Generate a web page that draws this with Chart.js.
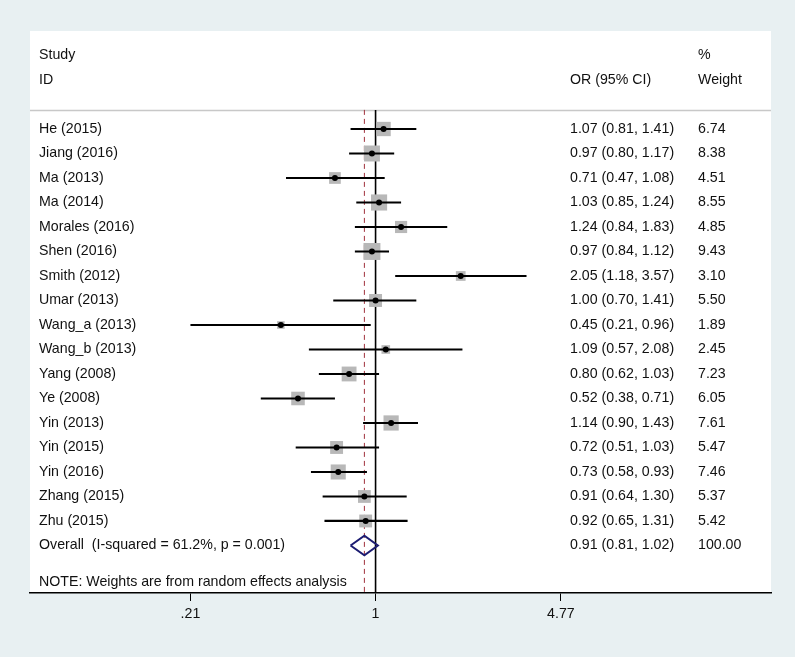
<!DOCTYPE html>
<html>
<head>
<meta charset="utf-8">
<script src="https://cdn.jsdelivr.net/npm/chart.js@4"></script>
<style>
  html, body { margin: 0; padding: 0; background: #e8f0f2; }
  canvas { display: block; }
</style>
</head>
<body>
<canvas class="js-chart" width="795" height="657"></canvas>
<script>
const studies = ["He (2015)", "Jiang (2016)", "Ma (2013)", "Ma (2014)", "Morales (2016)",
  "Shen (2016)", "Smith (2012)", "Umar (2013)", "Wang_a (2013)", "Wang_b (2013)",
  "Yang (2008)", "Ye (2008)", "Yin (2013)", "Yin (2015)", "Yin (2016)",
  "Zhang (2015)", "Zhu (2015)"];
const oddsRatio = [1.07, 0.97, 0.71, 1.03, 1.24, 0.97, 2.05, 1.00, 0.45, 1.09, 0.80, 0.52, 1.14, 0.72, 0.73, 0.91, 0.92];
const ciLow = [0.81, 0.80, 0.47, 0.85, 0.84, 0.84, 1.18, 0.70, 0.21, 0.57, 0.62, 0.38, 0.90, 0.51, 0.58, 0.64, 0.65];
const ciHigh = [1.41, 1.17, 1.08, 1.24, 1.83, 1.12, 3.57, 1.41, 0.96, 2.08, 1.03, 0.71, 1.43, 1.03, 0.93, 1.30, 1.31];
const weights = [6.74, 8.38, 4.51, 8.55, 4.85, 9.43, 3.10, 5.50, 1.89, 2.45, 7.23, 6.05, 7.61, 5.47, 7.46, 5.37, 5.42];

const overallLabel = "Overall  (I-squared = 61.2%, p = 0.001)";
const overallOR = 0.91;
const overallLow = 0.81;
const overallHigh = 1.02;
const overallWeight = 100.0;

const xTickValues = [0.21, 1, 4.77];
const xTickLabels = [".21", "1", "4.77"];

const noteText = "NOTE: Weights are from random effects analysis";

const FONT = "'Liberation Sans', Arial, sans-serif";
const TEXT_COLOR = "#111";
const OVERALL_ROW = studies.length;
const TOP_ROW = -4;
const BOTTOM_ROW = 18.94;
const RULE_ROW = -0.78;

const ctx = document.querySelector(".js-chart").getContext("2d");

// whisker lines, one per study
const ciSets = studies.map((s, i) => ({
  data: [{ x: ciLow[i], y: i }, { x: ciHigh[i], y: i }],
  showLine: true,
  borderColor: "#000",
  borderWidth: 2.2,
  pointRadius: 0,
  order: 1,
}));

const datasets = [
  {
    // null line
    data: [{ x: 1, y: RULE_ROW }, { x: 1, y: BOTTOM_ROW }],
    showLine: true,
    borderColor: "#000",
    borderWidth: 1.6,
    pointRadius: 0,
    order: 4,
  },
  {
    // overall effect line
    data: [{ x: overallOR, y: RULE_ROW }, { x: overallOR, y: BOTTOM_ROW }],
    showLine: true,
    borderColor: "#a0303c",
    borderWidth: 1,
    borderDash: [5, 4],
    pointRadius: 0,
    order: 4,
  },
  {
    // weight boxes
    data: oddsRatio.map((v, i) => ({ x: v, y: i })),
    pointStyle: "rect",
    pointRadius: (c) => 3.9 * Math.sqrt(weights[c.dataIndex] || 0),
    backgroundColor: "#b8b8b8",
    borderWidth: 0,
    order: 3,
  },
  ...ciSets,
  {
    // point estimates
    data: oddsRatio.map((v, i) => ({ x: v, y: i })),
    pointStyle: "circle",
    pointRadius: 3,
    backgroundColor: "#000",
    borderWidth: 0,
    order: 0,
  },
  {
    // overall diamond
    data: [
      { x: overallLow, y: OVERALL_ROW },
      { x: overallOR, y: OVERALL_ROW - 0.4 },
      { x: overallHigh, y: OVERALL_ROW },
      { x: overallOR, y: OVERALL_ROW + 0.4 },
      { x: overallLow, y: OVERALL_ROW },
    ],
    showLine: true,
    borderColor: "#1c1c72",
    borderWidth: 2,
    borderJoinStyle: "miter",
    pointRadius: 0,
    order: 1,
  },
];

const panelPlugin = {
  id: "panel",
  beforeDraw(chart) {
    const { ctx, chartArea: a } = chart;
    ctx.save();
    ctx.fillStyle = "#e8f0f2";
    ctx.fillRect(0, 0, chart.width, chart.height);
    ctx.fillStyle = "#fff";
    ctx.fillRect(a.left, a.top, a.right - a.left, a.bottom - a.top);
    const ry = Math.round(chart.scales.y.getPixelForValue(RULE_ROW)) + 0.5;
    ctx.strokeStyle = "#c8c8c8";
    ctx.lineWidth = 1.5;
    ctx.beginPath();
    ctx.moveTo(a.left, ry);
    ctx.lineTo(a.right, ry);
    ctx.stroke();
    ctx.restore();
  },
};

const textPlugin = {
  id: "tableText",
  afterDatasetsDraw(chart) {
    const { ctx, chartArea: a } = chart;
    const y = chart.scales.y;
    const labelX = a.left + 9;
    const orX = 570;
    const wX = 698;
    ctx.save();
    ctx.font = "14.2px " + FONT;
    ctx.fillStyle = TEXT_COLOR;
    ctx.textBaseline = "middle";
    ctx.textAlign = "left";

    ctx.fillText("Study", labelX, y.getPixelForValue(-3));
    ctx.fillText("ID", labelX, y.getPixelForValue(-2));
    ctx.fillText("OR (95% CI)", orX, y.getPixelForValue(-2));
    ctx.fillText("%", wX, y.getPixelForValue(-3));
    ctx.fillText("Weight", wX, y.getPixelForValue(-2));

    studies.forEach((s, i) => {
      const py = y.getPixelForValue(i);
      ctx.fillText(s, labelX, py);
      ctx.fillText(
        oddsRatio[i].toFixed(2) + " (" + ciLow[i].toFixed(2) + ", " + ciHigh[i].toFixed(2) + ")",
        orX, py);
      ctx.fillText(weights[i].toFixed(2), wX, py);
    });

    const oy = y.getPixelForValue(OVERALL_ROW);
    ctx.fillText(overallLabel, labelX, oy);
    ctx.fillText(
      overallOR.toFixed(2) + " (" + overallLow.toFixed(2) + ", " + overallHigh.toFixed(2) + ")",
      orX, oy);
    ctx.fillText(overallWeight.toFixed(2), wX, oy);

    ctx.fillText(noteText, labelX, y.getPixelForValue(OVERALL_ROW + 1.5));
    ctx.restore();
  },
};

new Chart(ctx, {
  type: "scatter",
  data: { datasets },
  options: {
    responsive: false,
    animation: false,
    events: [],
    layout: { padding: { left: 30, top: 31, right: 24, bottom: 0 } },
    plugins: { legend: { display: false }, tooltip: { enabled: false } },
    scales: {
      x: {
        type: "logarithmic",
        min: 0.0543,
        max: 28.04,
        afterBuildTicks(scale) {
          scale.ticks = xTickValues.map((v) => ({ value: v }));
        },
        afterFit(scale) {
          scale.height = 64;
        },
        grid: { drawOnChartArea: false, drawTicks: true, tickLength: 8, tickColor: "#000", tickWidth: 1 },
        border: { display: true, color: "#000", width: 1.5 },
        ticks: {
          autoSkip: false,
          maxRotation: 0,
          padding: 5,
          color: TEXT_COLOR,
          font: { family: FONT, size: 14.2 },
          callback(value, index) {
            return xTickLabels[index];
          },
        },
      },
      y: {
        type: "linear",
        display: false,
        reverse: true,
        min: TOP_ROW,
        max: BOTTOM_ROW,
      },
    },
  },
  plugins: [panelPlugin, textPlugin],
});
</script>
</body>
</html>
